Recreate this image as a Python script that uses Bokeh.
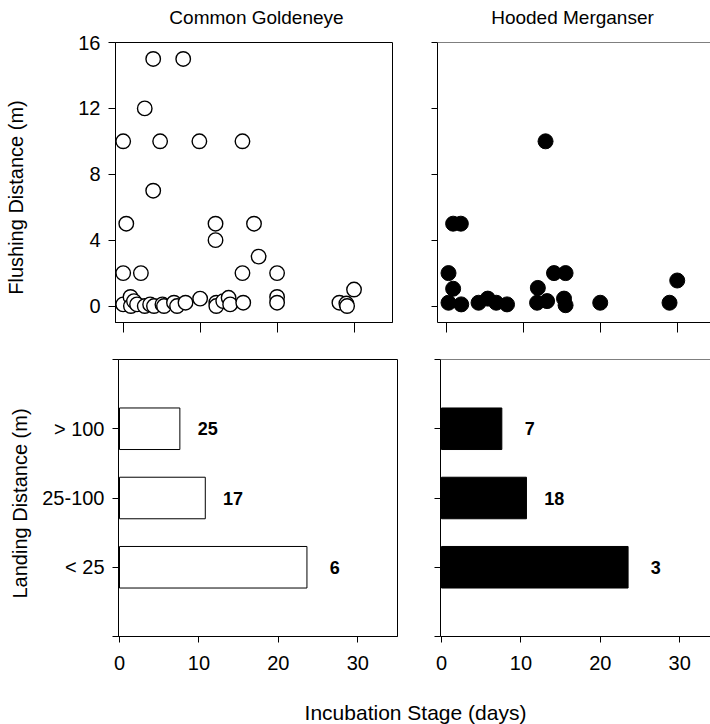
import math
from bokeh.plotting import figure
from bokeh.layouts import column, row
from bokeh.models import FixedTicker, Label, Span, Range1d
from bokeh.core.properties import value
from bokeh.embed import file_html
from bokeh.resources import INLINE

# ---------------- data ----------------
species = ["Common Goldeneye", "Hooded Merganser"]

gold_day = [3.9, 7.8, 2.8, 0.0, 4.8, 9.9, 15.5, 3.9, 0.4, 12.0, 17.0, 12.0, 17.6,
            0.0, 2.3, 15.5, 20.0, 30.0,
            0.0, 0.95, 1.0, 1.4, 1.8, 2.8, 3.5, 4.0, 5.1, 5.3, 6.6, 7.0, 8.1, 10.0,
            12.1, 12.1, 13.0, 13.7, 13.9, 15.6, 20.0, 20.0, 28.1, 29.0, 29.1]
gold_flush = [15, 15, 12, 10, 10, 10, 10, 7, 5, 5, 5, 4, 3,
              2, 2, 2, 2, 1,
              0.1, 0.55, 0.0, 0.3, 0.1, 0.0, 0.1, 0.0, 0.1, 0.0, 0.2, 0.0, 0.2, 0.45,
              0.2, 0.0, 0.3, 0.5, 0.1, 0.2, 0.55, 0.2, 0.2, 0.15, 0.0]

merg_day = [12.9, 0.9, 1.9, 0.3, 0.9, 0.3, 1.95, 4.2, 5.4, 6.5, 7.9, 11.9, 11.8,
            13.1, 14.0, 15.5, 15.3, 15.5, 20.0, 29.0, 30.0]
merg_flush = [10, 5, 5, 2, 1.05, 0.2, 0.1, 0.2, 0.45, 0.2, 0.1, 1.1, 0.2,
              0.3, 2, 2, 0.45, 0.05, 0.2, 0.2, 1.55]

landing_cats = ["< 25", "25-100", "> 100"]
gold_stage = [23.6, 10.8, 7.6]
merg_stage = [23.5, 10.7, 7.6]
gold_n = [6, 17, 25]
merg_n = [3, 18, 7]

flush_ticks = [0, 4, 8, 12, 16]
stage_ticks = [0, 10, 20, 30]

# ---------------- style / layout ----------------
FONT = "Liberation Sans"
STRIP = 36          # left strip holding the rotated axis titles
LEFT_W, RIGHT_W = 420 - STRIP, 290
TITLE_H, TOP_H, BOT_H, XLAB_H = 28, 318, 334, 44


def make(w, h, xr, yr, bl, br, bt, bb):
    p = figure(width=w, height=h, x_range=Range1d(*xr), y_range=Range1d(*yr),
               min_border_left=bl, min_border_right=br, min_border_top=bt,
               min_border_bottom=bb, output_backend="svg", toolbar_location=None,
               tools="")
    p.grid.visible = False
    p.outline_line_color = None
    p.background_fill_color = "white"
    p.border_fill_color = "white"
    for ax in p.axis:
        ax.axis_line_color = "black"
        ax.axis_line_width = 1
        ax.major_tick_line_color = "black"
        ax.major_tick_line_width = 1
        ax.major_tick_in = 0
        ax.minor_tick_line_color = None
        ax.major_label_text_font = FONT
        ax.major_label_text_font_size = "20px"
        ax.major_label_text_color = "black"
    return p


def pixfig(x0, x1, y0, y1):
    # a blank figure whose data units are the page's pixels (y measured upward)
    p = figure(width=x1 - x0, height=y1 - y0, x_range=Range1d(x0, x1),
               y_range=Range1d(0, y1 - y0), x_axis_type=None, y_axis_type=None,
               min_border=0, output_backend="svg", toolbar_location=None, tools="")
    p.grid.visible = False
    p.outline_line_color = None
    p.background_fill_color = "white"
    p.border_fill_color = "white"
    p._y1 = y1
    return p


def hide_labels(ax, ticks, size="20px"):
    ax.major_label_overrides = {t: "" for t in ticks}
    ax.major_label_text_font_size = size
    ax.major_label_standoff = 0


def txt(p, x, y, text, size="20px", angle=0.0):
    p.add_layout(Label(x=x, y=p._y1 - y, text=text, angle=angle, text_align="center",
                       text_baseline="middle", text_font=FONT, text_font_size=size,
                       text_color="black"))


# ---------------- top row: flushing distance ----------------
tl = make(LEFT_W, TOP_H, (-1.0, 35.0), (-1.0, 16.0), 115 - STRIP, 28, 14, 24)
tr = make(RIGHT_W, TOP_H, (-1.13, 34.32), (-1.0, 16.0), 17, 0, 14, 24)

for p in (tl, tr):
    p.xaxis.ticker = FixedTicker(ticks=stage_ticks)
    p.xaxis.major_tick_out = 10
    hide_labels(p.xaxis[0], stage_ticks, "10px")
    p.yaxis.ticker = FixedTicker(ticks=flush_ticks)

tl.outline_line_color = "black"
tl.yaxis.major_tick_out = 7
tl.yaxis.major_label_standoff = 8
tr.yaxis.major_tick_out = 6
hide_labels(tr.yaxis[0], flush_ticks)
tr.add_layout(Span(location=16.0, dimension="width", line_color="black", line_width=1.2))

tl.scatter(gold_day, gold_flush, size=14.5, fill_color="white", line_color="black",
           line_width=1.4)
tr.scatter(merg_day, merg_flush, size=15, fill_color="black", line_color="black",
           line_width=1)

# ---------------- bottom row: landing distance ----------------
ys = list(range(1, len(landing_cats) + 1))
ytk = list(range(0, len(landing_cats) + 2))
overrides = {0: "", len(landing_cats) + 1: ""}
overrides.update({i + 1: c for i, c in enumerate(landing_cats)})

bl = make(LEFT_W, BOT_H, (-0.126, 35.0), (0, 4), 118 - STRIP, 23, 13, 44)
br = make(RIGHT_W, BOT_H, (-0.126, 33.88), (0, 4), 20, 0, 13, 44)

for p in (bl, br):
    p.xaxis.ticker = FixedTicker(ticks=stage_ticks)
    p.xaxis.major_tick_out = 6
    p.xaxis.major_label_standoff = 13
    p.yaxis.ticker = FixedTicker(ticks=ytk)
    p.yaxis.major_tick_out = 6

bl.outline_line_color = "black"
bl.yaxis.major_label_overrides = overrides
bl.yaxis.major_label_standoff = 8
hide_labels(br.yaxis[0], ytk)
br.add_layout(Span(location=4, dimension="width", line_color="black", line_width=1.2))

bl.hbar(y=ys, left=0, right=gold_stage, height=0.6, fill_color="white",
        line_color="black", line_width=1)
br.hbar(y=ys, left=0, right=merg_stage, height=0.6, fill_color="black",
        line_color="black", line_width=1)

bl.text(x=[v + 3.5 for v in gold_stage], y=ys, text=[str(n) for n in gold_n],
        text_font=value(FONT), text_font_size="18px", text_font_style="bold",
        text_align="center", text_baseline="middle", text_color="black")
br.text(x=[v + 3.5 for v in merg_stage], y=ys, text=[str(n) for n in merg_n],
        text_font=value(FONT), text_font_size="18px", text_font_style="bold",
        text_align="center", text_baseline="middle", text_color="black")

# ---------------- titles and axis titles ----------------
title_fig = pixfig(STRIP, STRIP + LEFT_W + RIGHT_W, 0, TITLE_H)
txt(title_fig, 256, 17, species[0], size="19px")
txt(title_fig, 572, 17, species[1], size="19px")

strip = pixfig(0, STRIP, 0, TITLE_H + TOP_H + BOT_H)
txt(strip, 15, 197, "Flushing Distance (m)", angle=math.pi / 2)
txt(strip, 19, 503, "Landing Distance (m)", angle=math.pi / 2)

y0 = TITLE_H + TOP_H + BOT_H
xlab = pixfig(0, STRIP + LEFT_W + RIGHT_W, y0, y0 + XLAB_H)
txt(xlab, 415, 712, "Incubation Stage (days)", size="21px")

panels = column(title_fig, row(tl, tr, spacing=0), row(bl, br, spacing=0), spacing=0)
layout = column(row(strip, panels, spacing=0), xlab, spacing=0)

open("out.html", "w").write(file_html(layout, INLINE))
